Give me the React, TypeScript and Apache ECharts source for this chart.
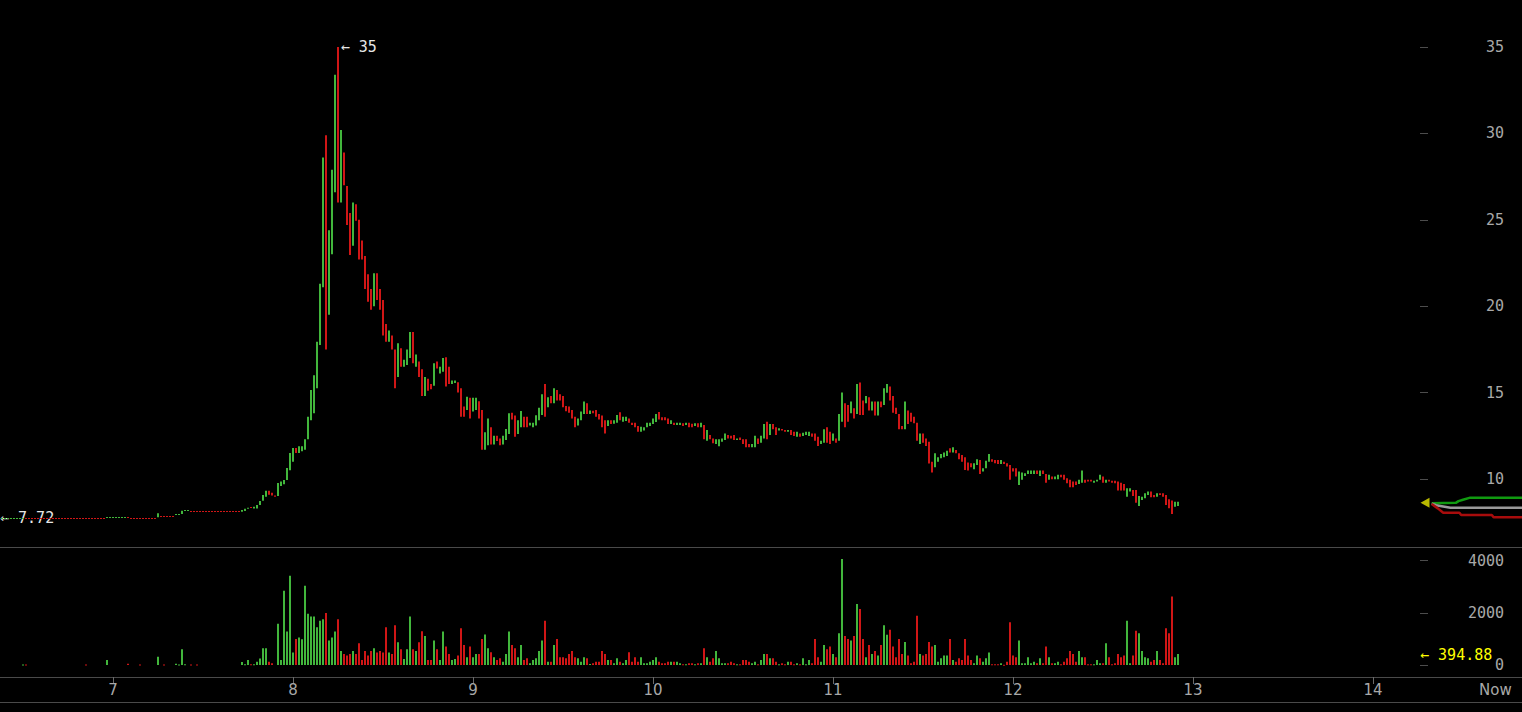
import React, { useEffect, useRef } from 'react';
import * as echarts from 'echarts';

// ---- axis ranges & ticks ----
const X_MIN = 6.37222;
const X_MAX = 14.82778;
const FIRST_CANDLE = 6.38167; // day value of the first candle
const CANDLE_DAYS = 1 / 60; // 24-minute candles
const DAY_TICKS = [7, 8, 9, 10, 11, 12, 13, 14];
const NOW = 14.68;
const PRICE_MIN = 6.065;
const PRICE_MAX = 37.72;
const PRICE_TICKS = [10, 15, 20, 25, 30, 35];
const VOLUME_MIN = -460;
const VOLUME_MAX = 4520;
const VOLUME_TICKS = [0, 2000, 4000];

// ---- markers ----
const PRICE_HIGH = 35;
const PRICE_HIGH_INDEX = 112;
const PRICE_LOW = 7.72;
const PRICE_LOW_INDEX = 0;
const LAST_PRICE = 8.62;
const LAST_VOLUME = 394.88;
const MARKER_DAY = 14.289;

// ---- candles: [open, close] ----
const candleOC: [number, number][] = [
  [7.72, 7.73], [7.72, 7.73], [7.72, 7.73], [7.72, 7.73], [7.72, 7.73], [7.72, 7.73], [7.72, 7.73], [7.72, 7.73], [7.73, 7.72], [7.73, 7.72],
  [7.73, 7.72], [7.73, 7.72], [7.73, 7.72], [7.73, 7.72], [7.73, 7.72], [7.73, 7.72], [7.73, 7.72], [7.73, 7.72], [7.73, 7.72], [7.73, 7.72],
  [7.73, 7.72], [7.73, 7.72], [7.73, 7.72], [7.73, 7.72], [7.73, 7.72], [7.73, 7.72], [7.73, 7.72], [7.73, 7.72], [7.73, 7.72], [7.73, 7.72],
  [7.73, 7.72], [7.73, 7.72], [7.73, 7.72], [7.73, 7.72], [7.73, 7.72], [7.79, 7.8], [7.79, 7.8], [7.79, 7.8], [7.79, 7.8], [7.79, 7.8],
  [7.79, 7.8], [7.79, 7.8], [7.8, 7.78], [7.73, 7.72], [7.73, 7.72], [7.73, 7.72], [7.73, 7.72], [7.73, 7.72], [7.73, 7.72], [7.73, 7.72],
  [7.73, 7.72], [7.73, 7.72], [7.79, 8.02], [7.83, 7.82], [7.83, 7.82], [7.83, 7.82], [7.83, 7.82], [7.83, 7.82], [7.92, 7.93], [7.92, 7.93],
  [7.97, 8.17], [8.16, 8.17], [8.16, 8.17], [8.1, 8.09], [8.1, 8.09], [8.1, 8.09], [8.1, 8.09], [8.1, 8.09], [8.1, 8.09], [8.1, 8.09],
  [8.1, 8.09], [8.1, 8.09], [8.1, 8.09], [8.1, 8.09], [8.1, 8.09], [8.1, 8.09], [8.1, 8.09], [8.1, 8.09], [8.1, 8.09], [8.1, 8.09],
  [8.11, 8.2], [8.15, 8.28], [8.28, 8.34], [8.35, 8.33], [8.3, 8.4], [8.3, 8.5], [8.5, 8.73], [8.74, 9.07], [8.98, 9.32], [9.32, 9.09],
  [9.2, 9.05], [9.05, 8.98], [9.02, 9.77], [9.6, 9.85], [9.69, 9.94], [9.94, 10.64], [10.5, 11.5], [11.0, 11.8], [11.8, 11.5], [11.5, 11.9],
  [11.6, 11.9], [11.7, 12.3], [12.3, 13.6], [13.4, 15.15], [13.8, 16.0], [15.25, 17.95], [17.75, 21.3], [21.1, 28.6], [29.9, 17.5], [19.5, 24.4],
  [23.0, 27.9], [26.6, 33.4], [35.0, 26.0], [26.0, 30.2], [28.9, 27.0], [26.95, 24.7], [25.4, 22.96], [23.5, 26.0], [25.9, 24.95], [25.0, 22.7],
  [23.8, 22.7], [22.9, 21.0], [21.85, 20.26], [21.0, 19.8], [20.0, 21.9], [21.9, 20.36], [21.0, 19.8], [20.36, 18.3], [18.97, 17.95], [17.95, 18.6],
  [18.3, 17.5], [17.5, 15.25], [15.9, 17.85], [17.56, 16.5], [16.5, 16.9], [16.6, 17.5], [17.0, 18.5], [18.5, 16.7], [16.5, 17.2], [16.8, 15.9],
  [16.35, 14.8], [14.8, 15.9], [15.8, 15.1], [15.5, 15.2], [15.4, 16.7], [16.8, 16.4], [16.1, 16.5], [16.2, 17.0], [17.05, 15.35], [16.5, 15.5],
  [15.5, 15.7], [15.55, 15.7], [15.6, 15.0], [15.25, 13.6], [14.2, 13.6], [14.0, 14.76], [14.7, 13.5], [13.9, 14.7], [14.0, 14.7], [14.5, 13.5],
  [14.0, 11.7], [11.7, 12.7], [11.96, 13.5], [13.0, 12.0], [12.0, 12.5], [12.5, 12.2], [12.35, 11.95], [12.0, 12.5], [12.26, 12.9], [12.6, 13.8],
  [13.84, 13.45], [13.67, 12.45], [12.6, 13.4], [13.0, 13.94], [13.6, 13.0], [13.6, 13.0], [13.1, 13.25], [13.0, 13.26], [13.1, 13.69], [13.4, 14.13],
  [13.7, 14.9], [15.5, 13.6], [14.15, 14.73], [14.8, 14.38], [14.38, 15.25], [15.15, 14.54], [14.9, 14.54], [14.8, 14.15], [14.23, 13.92], [14.2, 13.84],
  [14.0, 13.5], [13.6, 12.99], [13.1, 13.5], [13.4, 13.9], [13.76, 14.48], [14.38, 13.76], [13.76, 13.96], [13.95, 13.8], [14.0, 13.6], [13.76, 13.45],
  [13.67, 13.0], [13.4, 12.64], [13.07, 13.4], [13.4, 13.19], [13.2, 13.4], [13.26, 13.7], [13.86, 13.4], [13.32, 13.6], [13.35, 13.6], [13.5, 13.26],
  [13.26, 13.13], [13.26, 13.0], [13.07, 12.74], [12.74, 13.03], [12.8, 13.0], [13.0, 13.26], [13.07, 13.26], [13.19, 13.5], [13.3, 13.76], [13.88, 13.45],
  [13.57, 13.4], [13.57, 13.4], [13.5, 13.19], [13.19, 13.4], [13.26, 13.13], [13.13, 13.26], [13.13, 13.26], [13.22, 13.07], [13.13, 13.26], [13.26, 13.0],
  [13.2, 13.0], [13.07, 13.22], [13.22, 13.0], [13.0, 13.26], [13.13, 12.3], [12.22, 12.84], [12.55, 12.3], [12.35, 12.07], [12.03, 12.3], [11.9, 12.3],
  [12.16, 12.35], [12.26, 12.64], [12.55, 12.35], [12.5, 12.35], [12.55, 12.26], [12.26, 12.35], [12.4, 12.26], [12.3, 12.03], [12.3, 11.84], [12.03, 11.84],
  [11.84, 12.03], [11.84, 12.5], [12.35, 12.03], [12.1, 12.5], [12.35, 13.19], [13.32, 12.3], [12.55, 13.19], [13.19, 12.88], [13.0, 12.55], [12.8, 12.94],
  [12.9, 12.8], [12.84, 12.74], [12.74, 12.84], [12.84, 12.55], [12.74, 12.49], [12.45, 12.74], [12.64, 12.45], [12.49, 12.68], [12.55, 12.74], [12.49, 12.74],
  [12.64, 12.45], [12.64, 12.22], [12.45, 11.91], [12.03, 12.22], [12.1, 12.88], [13.0, 12.1], [12.74, 12.03], [12.22, 12.64], [12.35, 12.1], [12.22, 13.76],
  [13.32, 15.0], [14.38, 13.0], [14.28, 13.32], [13.8, 14.48], [14.1, 13.5], [13.76, 15.5], [15.58, 13.7], [14.54, 13.7], [14.38, 14.8], [14.73, 13.96],
  [13.96, 14.48], [14.48, 13.67], [13.67, 14.48], [14.48, 14.15], [14.28, 15.25], [14.99, 15.5], [15.35, 14.54], [14.8, 13.84], [14.13, 13.76], [13.76, 12.88],
  [13.07, 12.88], [12.88, 14.48], [13.96, 13.19], [13.84, 13.32], [13.6, 13.22], [13.26, 12.22], [12.03, 12.64], [12.64, 12.1], [12.35, 11.91], [12.16, 10.9],
  [11.0, 10.37], [10.68, 11.49], [11.0, 11.26], [11.2, 11.45], [11.26, 11.53], [11.33, 11.64], [11.78, 11.53], [11.53, 11.84], [11.68, 11.49], [11.49, 11.14],
  [11.39, 11.0], [11.26, 10.52], [10.95, 10.49], [10.91, 10.68], [10.56, 10.91], [10.81, 11.14], [11.1, 10.29], [10.43, 10.62], [10.62, 11.06], [11.0, 11.45],
  [11.14, 11.0], [11.1, 10.91], [11.1, 10.87], [10.87, 11.1], [11.0, 10.87], [10.91, 10.72], [10.81, 9.95], [10.62, 10.43], [10.62, 10.14], [9.66, 10.43],
  [9.95, 10.37], [10.18, 10.33], [10.29, 10.49], [10.29, 10.49], [10.29, 10.49], [10.49, 10.29], [10.18, 10.49], [10.49, 10.29], [10.29, 9.79], [9.95, 10.24],
  [10.14, 9.99], [9.99, 10.14], [9.99, 10.24], [10.24, 10.1], [10.24, 9.95], [10.04, 9.75], [9.95, 9.52], [9.85, 9.52], [9.85, 9.66], [9.71, 9.95],
  [9.79, 10.49], [9.95, 9.79], [9.95, 9.85], [9.95, 9.85], [9.79, 9.9], [9.85, 9.95], [9.95, 10.24], [10.14, 9.79], [9.79, 9.95], [9.95, 9.85],
  [9.9, 9.79], [9.9, 9.75], [9.85, 9.33], [9.79, 9.33], [9.71, 9.33], [8.98, 9.46], [9.27, 9.46], [9.37, 9.02], [9.37, 8.63], [8.44, 9.02],
  [8.79, 8.98], [8.88, 9.17], [9.08, 9.27], [9.27, 8.94], [9.08, 8.94], [8.98, 9.17], [9.17, 9.08], [9.17, 8.98], [9.08, 8.5], [8.83, 8.31],
  [8.75, 7.98], [8.4, 8.69], [8.44, 8.69],
];

// ---- volume per candle ----
const volumes: number[] = [
  0, 0, 0, 0, 0, 0, 0, 20, 20, 0,
  0, 0, 0, 0, 0, 0, 0, 0, 0, 0,
  0, 0, 0, 0, 0, 0, 0, 0, 20, 0,
  0, 0, 0, 0, 0, 190, 0, 0, 0, 0,
  0, 0, 50, 0, 0, 0, 20, 0, 0, 0,
  0, 0, 320, 0, 15, 0, 0, 0, 50, 15,
  600, 30, 0, 15, 0, 15, 0, 0, 0, 0,
  0, 0, 0, 0, 0, 0, 0, 0, 0, 0,
  110, 26, 192, 26, 26, 128, 244, 641, 641, 128,
  64, 0, 1577, 192, 2846, 1282, 3423, 474, 1000, 1051,
  987, 3038, 1961, 1859, 1859, 1449, 1692, 1756, 1987, 936,
  1051, 1282, 1756, 538, 423, 359, 423, 538, 423, 833,
  192, 538, 359, 538, 641, 474, 538, 474, 1449, 474,
  423, 1526, 872, 603, 231, 603, 1859, 603, 538, 872,
  1295, 1115, 192, 192, 936, 603, 192, 1282, 705, 423,
  192, 231, 359, 1410, 769, 295, 705, 295, 423, 423,
  1000, 1167, 641, 487, 295, 192, 256, 128, 423, 1282,
  769, 641, 295, 769, 192, 256, 64, 192, 256, 538,
  936, 1692, 128, 128, 769, 1000, 295, 295, 256, 423,
  538, 295, 256, 128, 295, 256, 38, 64, 128, 128,
  538, 423, 192, 192, 64, 256, 128, 64, 192, 487,
  128, 295, 128, 295, 64, 64, 128, 192, 295, 128,
  64, 64, 128, 128, 128, 128, 64, 26, 26, 64,
  64, 26, 64, 64, 641, 295, 128, 256, 538, 256,
  64, 64, 64, 128, 64, 26, 26, 192, 192, 128,
  64, 128, 26, 192, 423, 423, 256, 256, 128, 26,
  64, 26, 128, 128, 26, 64, 26, 256, 26, 192,
  64, 1000, 295, 128, 769, 603, 705, 423, 295, 1218,
  4064, 1115, 1000, 936, 1115, 2333, 2141, 1000, 295, 769,
  423, 538, 359, 769, 1526, 1154, 1346, 705, 295, 1000,
  423, 885, 359, 64, 128, 1885, 423, 359, 423, 885,
  705, 769, 128, 256, 359, 359, 1000, 192, 128, 256,
  192, 1000, 359, 192, 64, 359, 256, 128, 256, 474,
  26, 26, 26, 64, 10, 128, 1641, 359, 295, 936,
  64, 64, 295, 64, 128, 64, 256, 64, 705, 295,
  64, 64, 128, 26, 128, 256, 538, 423, 128, 538,
  295, 295, 26, 26, 26, 192, 64, 64, 833, 295,
  26, 64, 423, 295, 359, 1692, 64, 359, 1308, 1218,
  538, 295, 256, 128, 192, 538, 192, 64, 1410, 1218,
  2628, 295, 423,
];

// ---- small depth lines at the right edge: [day, price] ----
const bidLine: [number, number][] = [
  [14.326, 8.6], [14.46, 8.62], [14.475, 8.72], [14.5, 8.8], [14.54, 8.92], [14.83, 8.92],
];
const lastLine: [number, number][] = [
  [14.326, 8.58], [14.35, 8.48], [14.43, 8.34], [14.83, 8.34],
];
const askLine: [number, number][] = [
  [14.326, 8.56], [14.36, 8.3], [14.39, 8.05], [14.48, 8.05], [14.49, 7.92], [14.66, 7.92], [14.67, 7.78], [14.83, 7.78],
];

const GREEN = '#42b63c';
const RED = '#d01616';
const AXIS_GREY = '#4a4a4a';
const LABEL_GREY = '#a8a8a8';
const MONO = '"DejaVu Sans Mono", monospace';
const SANS = '"DejaVu Sans", sans-serif';

const dayOf = (i: number) => FIRST_CANDLE + i * CANDLE_DAYS;

export default function App() {
  const ref = useRef<HTMLDivElement>(null);

  useEffect(() => {
    if (!ref.current) return;
    const chart = echarts.init(ref.current, null, { renderer: 'svg' });

    const candleData = candleOC.map((d, i) => [dayOf(i), d[0], d[1]]);
    const volumeData = volumes.map((v, i) => [dayOf(i), v, candleOC[i][1] >= candleOC[i][0] ? 1 : 0]);

    const option: any = {
      animation: false,
      backgroundColor: '#000',
      grid: [
        { left: 0, right: 0, top: 0, height: 547, containLabel: false, outerBoundsMode: 'none' },
        { left: 0, right: 0, top: 547, height: 130, containLabel: false, outerBoundsMode: 'none' },
      ],
      xAxis: [
        {
          type: 'value', gridIndex: 0, min: X_MIN, max: X_MAX,
          axisLine: { show: true, onZero: false, lineStyle: { color: AXIS_GREY, width: 1 } },
          axisTick: { show: false }, axisLabel: { show: false }, splitLine: { show: false },
        },
        {
          type: 'value', gridIndex: 1, min: X_MIN, max: X_MAX,
          axisLine: { show: true, onZero: false, lineStyle: { color: AXIS_GREY, width: 1 } },
          axisTick: { show: true, customValues: DAY_TICKS, length: 7, lineStyle: { color: '#6a6a6a' } },
          axisLabel: {
            show: true, customValues: [...DAY_TICKS, NOW],
            formatter: (v: number) => (Math.abs(v - NOW) < 1e-6 ? 'Now' : String(v)),
            color: LABEL_GREY, fontSize: 15, fontFamily: SANS, margin: 5,
          },
          splitLine: { show: false },
        },
      ],
      yAxis: [
        {
          type: 'value', gridIndex: 0, position: 'right', offset: -94, min: PRICE_MIN, max: PRICE_MAX,
          axisLine: { show: false },
          axisTick: { show: true, inside: true, length: 8, customValues: PRICE_TICKS, lineStyle: { color: '#4c4c4c' } },
          axisLabel: {
            customValues: PRICE_TICKS, formatter: (v: number) => String(v),
            color: LABEL_GREY, fontSize: 15, fontFamily: MONO, align: 'right', margin: 76,
          },
          splitLine: { show: false },
        },
        {
          type: 'value', gridIndex: 1, position: 'right', offset: -94, min: VOLUME_MIN, max: VOLUME_MAX,
          axisLine: { show: false },
          axisTick: { show: true, inside: true, length: 8, customValues: VOLUME_TICKS, lineStyle: { color: '#4c4c4c' } },
          axisLabel: {
            customValues: VOLUME_TICKS, formatter: (v: number) => String(v),
            color: LABEL_GREY, fontSize: 15, fontFamily: MONO, align: 'right', margin: 76,
          },
          splitLine: { show: false },
        },
      ],
      series: [
        {
          type: 'custom', name: 'price', xAxisIndex: 0, yAxisIndex: 0,
          data: candleData, encode: { x: 0, y: [1, 2] },
          renderItem: (_p: any, api: any) => {
            const t = api.value(0), o = api.value(1), c = api.value(2);
            const a = api.coord([t, o]);
            const b = api.coord([t, c]);
            let y = Math.min(a[1], b[1]);
            let h = Math.abs(a[1] - b[1]);
            if (h < 1) { y = Math.round((a[1] + b[1]) / 2 - 0.5); h = 1; }
            return {
              type: 'rect',
              shape: { x: Math.round(a[0]) - 1, y, width: 2, height: h },
              style: { fill: c >= o ? GREEN : RED },
            };
          },
        },
        {
          type: 'custom', name: 'volume', xAxisIndex: 1, yAxisIndex: 1,
          data: volumeData, encode: { x: 0, y: 1 },
          renderItem: (_p: any, api: any) => {
            const t = api.value(0), v = api.value(1), up = api.value(2);
            if (!v) return null;
            const base = api.coord([t, 0]);
            const top = api.coord([t, v]);
            return {
              type: 'rect',
              shape: { x: Math.round(base[0]) - 1, y: top[1], width: 2, height: Math.max(1, base[1] - top[1]) },
              style: { fill: up ? GREEN : RED },
            };
          },
        },
        {
          type: 'line', name: 'bid', xAxisIndex: 0, yAxisIndex: 0, data: bidLine,
          showSymbol: false, lineStyle: { color: '#109a10', width: 2.5 }, silent: true,
        },
        {
          type: 'line', name: 'last', xAxisIndex: 0, yAxisIndex: 0, data: lastLine,
          showSymbol: false, lineStyle: { color: '#9a9a9a', width: 2.5 }, silent: true,
        },
        {
          type: 'line', name: 'ask', xAxisIndex: 0, yAxisIndex: 0, data: askLine,
          showSymbol: false, lineStyle: { color: '#a80c0c', width: 2.5 }, silent: true,
        },
        {
          type: 'scatter', name: 'last price', xAxisIndex: 0, yAxisIndex: 0,
          data: [[MARKER_DAY, LAST_PRICE]], symbol: 'triangle', symbolSize: [10, 9], symbolRotate: 90,
          itemStyle: { color: '#e6e600' }, silent: true,
        },
      ],
    };
    chart.setOption(option);

    const hi = chart.convertToPixel({ gridIndex: 0 } as any, [dayOf(PRICE_HIGH_INDEX), PRICE_HIGH]) as number[];
    const lo = chart.convertToPixel({ gridIndex: 0 } as any, [dayOf(PRICE_LOW_INDEX), PRICE_LOW]) as number[];
    const lv = chart.convertToPixel({ gridIndex: 1 } as any, [MARKER_DAY, LAST_VOLUME]) as number[];
    const txt = (x: number, y: number, text: string, fill: string) => ({
      type: 'text', x, y, silent: true,
      style: {
        text, fill, fontSize: 15, fontFamily: MONO,
        align: 'left', textAlign: 'left', verticalAlign: 'middle', textVerticalAlign: 'middle',
      },
    });
    chart.setOption({
      graphic: [
        txt(hi[0] + 3, hi[1], '← ' + PRICE_HIGH, '#e6e6e6'),
        txt(Math.max(0, lo[0] - 4), lo[1], '← ' + PRICE_LOW.toFixed(2), '#e6e6e6'),
        txt(lv[0] - 5, lv[1], '← ' + LAST_VOLUME.toFixed(2), '#ffff00'),
        { type: 'rect', silent: true, shape: { x: 0, y: 702, width: 1522, height: 1 }, style: { fill: AXIS_GREY } },
      ],
    });

    return () => chart.dispose();
  }, []);

  return (
    <div
      ref={ref}
      style={{ position: 'fixed', left: 0, top: 0, width: 1522, height: 712, background: '#000' }}
    />
  );
}
